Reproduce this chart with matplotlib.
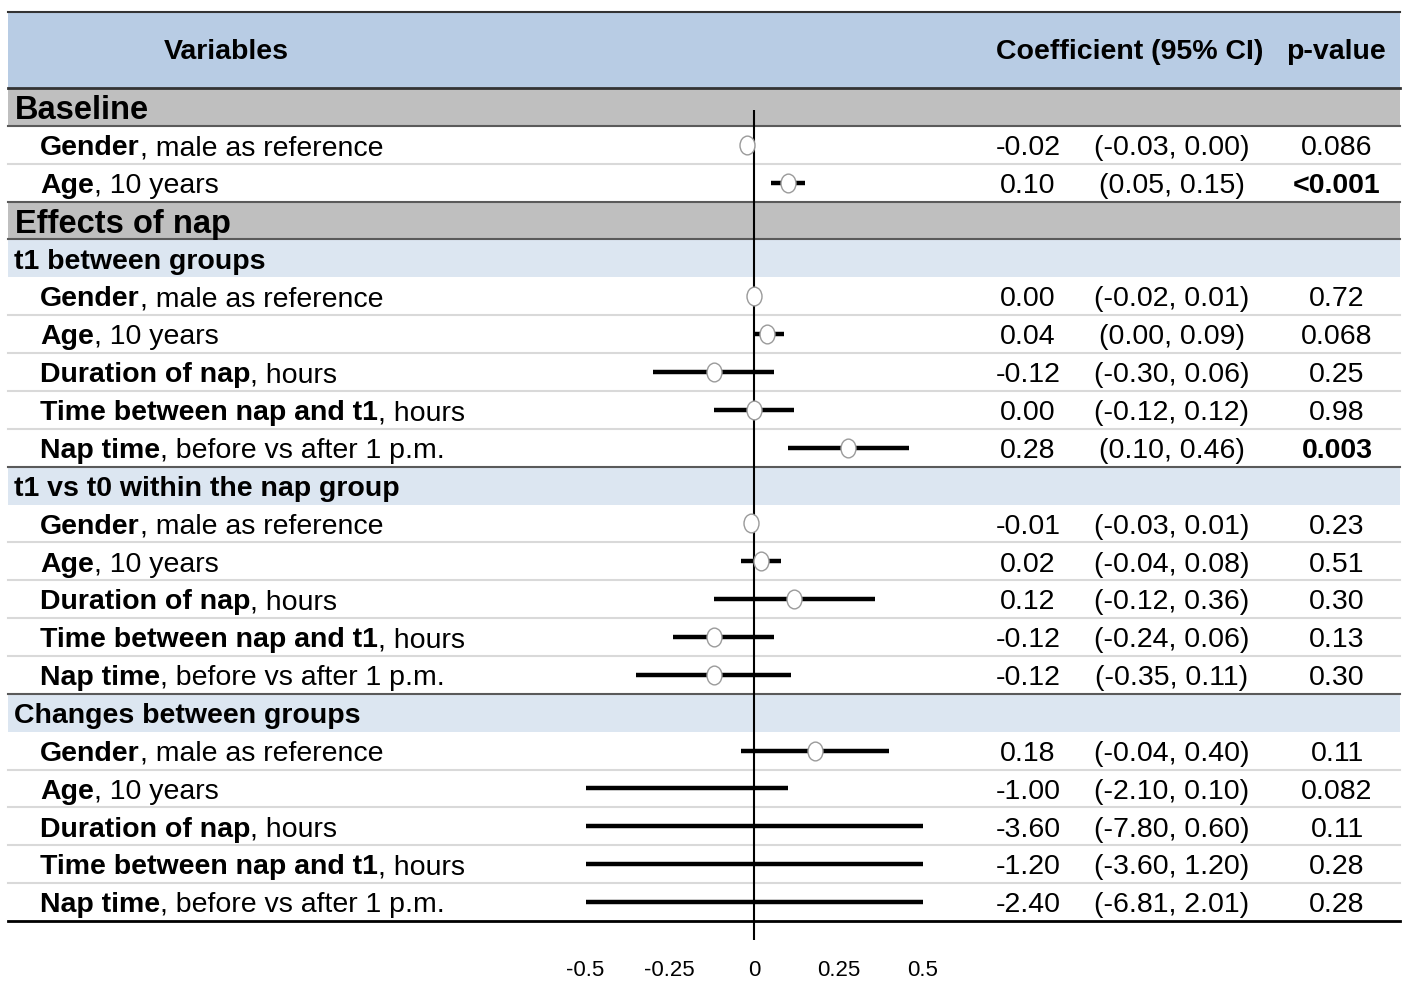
import numpy as np
import matplotlib.pyplot as plt
from matplotlib.path import Path
from matplotlib.transforms import Affine2D

plt.rcParams['font.family'] = ['Liberation Sans', 'DejaVu Sans']

# headings of the table
heading_text = ['Baseline', 'Effects of nap', 't1 between groups',
                't1 vs t0 within the nap group', 'Changes between groups']
heading_kind = ['section', 'section', 'sub', 'sub', 'sub']
heading_row = [0, 3, 4, 10, 16]

# variable rows
item_bold = ['Gender', 'Age'] + ['Gender', 'Age', 'Duration of nap',
                                 'Time between nap and t1', 'Nap time'] * 3
item_rest = [', male as reference', ', 10 years'] + [
    ', male as reference', ', 10 years', ', hours', ', hours',
    ', before vs after 1 p.m.'] * 3

coef = [-0.02, 0.10,
        0.00, 0.04, -0.12, 0.00, 0.28,
        -0.01, 0.02, 0.12, -0.12, -0.12,
        0.18, -1.00, -3.60, -1.20, -2.40]
ci_lo = [-0.03, 0.05,
         -0.02, 0.00, -0.30, -0.12, 0.10,
         -0.03, -0.04, -0.12, -0.24, -0.35,
         -0.04, -2.10, -7.80, -3.60, -6.81]
ci_hi = [0.00, 0.15,
         0.01, 0.09, 0.06, 0.12, 0.46,
         0.01, 0.08, 0.36, 0.06, 0.11,
         0.40, 0.10, 0.60, 1.20, 2.01]
p_text = ['0.086', '<0.001',
          '0.72', '0.068', '0.25', '0.98', '0.003',
          '0.23', '0.51', '0.30', '0.13', '0.30',
          '0.11', '0.082', '0.11', '0.28', '0.28']
p_bold = [False, True,
          False, False, False, False, True,
          False, False, False, False, False,
          False, False, False, False, False]

tick_vals = [-0.5, -0.25, 0, 0.25, 0.5]
tick_labels = ['-0.5', '-0.25', '0', '0.25', '0.5']
x_range = (-0.5, 0.5)

# layout (pixels of a 1406x981 canvas)
W, H = 1406, 981
n_rows = 22
row_top, row_bot = 88, 921
rh = (row_bot - row_top) / n_rows
px0, px_unit = 754, 337          # x pixel of 0 and pixels per unit
left_px, right_px = 8, 1400
fs = 20.5

fig = plt.figure(figsize=(W / 100, H / 100), dpi=100)
ax = fig.add_axes([0, 0, 1, 1])
ax.set_xlim(-px0 / px_unit, (W - px0) / px_unit)
ax.set_ylim((H - row_top) / rh - 0.5, (0 - row_top) / rh - 0.5)
ax.axis('off')
yt = ax.get_yaxis_transform()
xl, xr = left_px / W, right_px / W

blue_hdr = '#B8CCE4'
gray_sec = '#BFBFBF'
blue_sub = '#DCE6F1'
dark_line = '#5a5a5a'
light_line = '#D9D9D9'

# header band
ax.axhspan(-2.5, -0.5, xl, xr, color=blue_hdr, lw=0, zorder=0)
ax.axhline(-2.5, xl, xr, color='#333333', lw=1.5, zorder=1)
ax.axhline(-0.5, xl, xr, color='#333333', lw=2, zorder=1)
hy = -1.45
ax.text(226 / W, hy, 'Variables', transform=yt, fontsize=fs,
        fontweight='bold', ha='center', va='center')
ax.text(1130 / W, hy, 'Coefficient (95% CI)', transform=yt, fontsize=fs,
        fontweight='bold', ha='center', va='center')
ax.text(1336 / W, hy, 'p-value', transform=yt, fontsize=fs,
        fontweight='bold', ha='center', va='center')

kind = ['item'] * n_rows
for r, k in zip(heading_row, heading_kind):
    kind[r] = k

# heading rows
for r, txt, k in zip(heading_row, heading_text, heading_kind):
    if k == 'section':
        ax.axhspan(r - 0.5, r + 0.5, xl, xr, color=gray_sec, lw=0, zorder=0)
        ax.text(15 / W, r + 0.32, txt, transform=yt, fontsize=23.5,
                fontweight='bold', va='baseline')
    else:
        ax.axhspan(r - 0.5, r + 0.5, xl, xr, color=blue_sub, lw=0, zorder=0)
        ax.text(14 / W, r + 0.27, txt, transform=yt, fontsize=fs,
                fontweight='bold', va='baseline')

# row separators
for r in range(n_rows - 1):
    if kind[r] == 'sub':
        continue
    if kind[r] == 'section' or kind[r + 1] != 'item':
        ax.axhline(r + 0.5, xl, xr, color=dark_line, lw=1.5, zorder=1)
    else:
        ax.axhline(r + 0.5, xl, xr, color=light_line, lw=1.5, zorder=1)
ax.axhline(n_rows - 0.5, xl, xr, color='black', lw=2, zorder=1)

# zero reference line
ax.vlines(0, 0.08, n_rows, color='black', lw=1.5, zorder=2)

# ellipse marker
ell = Path.unit_circle().transformed(Affine2D().scale(0.8, 1.0))

item_rows = [r for r in range(n_rows) if kind[r] == 'item']
for i, r in enumerate(item_rows):
    yb = r + 0.27
    tb = ax.text(40 / W, yb, item_bold[i], transform=yt, fontsize=fs,
                 fontweight='bold', va='baseline')
    ax.annotate(item_rest[i], xy=(1, yb), xycoords=(tb, 'data'),
                fontsize=fs, va='baseline', ha='left')
    ax.text(1028 / W, yb, '%.2f' % coef[i], transform=yt, fontsize=fs,
            ha='center', va='baseline')
    ax.text(1172 / W, yb, '(%.2f, %.2f)' % (ci_lo[i], ci_hi[i]),
            transform=yt, fontsize=fs, ha='center', va='baseline')
    ax.text(1337 / W, yb, p_text[i], transform=yt, fontsize=fs,
            ha='center', va='baseline',
            fontweight='bold' if p_bold[i] else 'normal')

    lo = np.clip(ci_lo[i], *x_range)
    hi = np.clip(ci_hi[i], *x_range)
    ax.hlines(r, lo, hi, color='black', lw=3.2, zorder=3)
    if x_range[0] <= coef[i] <= x_range[1]:
        ax.plot(coef[i], r, marker=ell, markersize=13.5,
                markerfacecolor='white', markeredgecolor='#9a9a9a',
                markeredgewidth=1.0, zorder=4)

# axis tick labels
ty = (970 - row_top) / rh - 0.5
for v, lab in zip(tick_vals, tick_labels):
    ax.text(v, ty, lab, fontsize=16, ha='center', va='center',
            family=['Liberation Sans Narrow', 'Liberation Sans'])

fig.savefig('out.png', dpi=100)
